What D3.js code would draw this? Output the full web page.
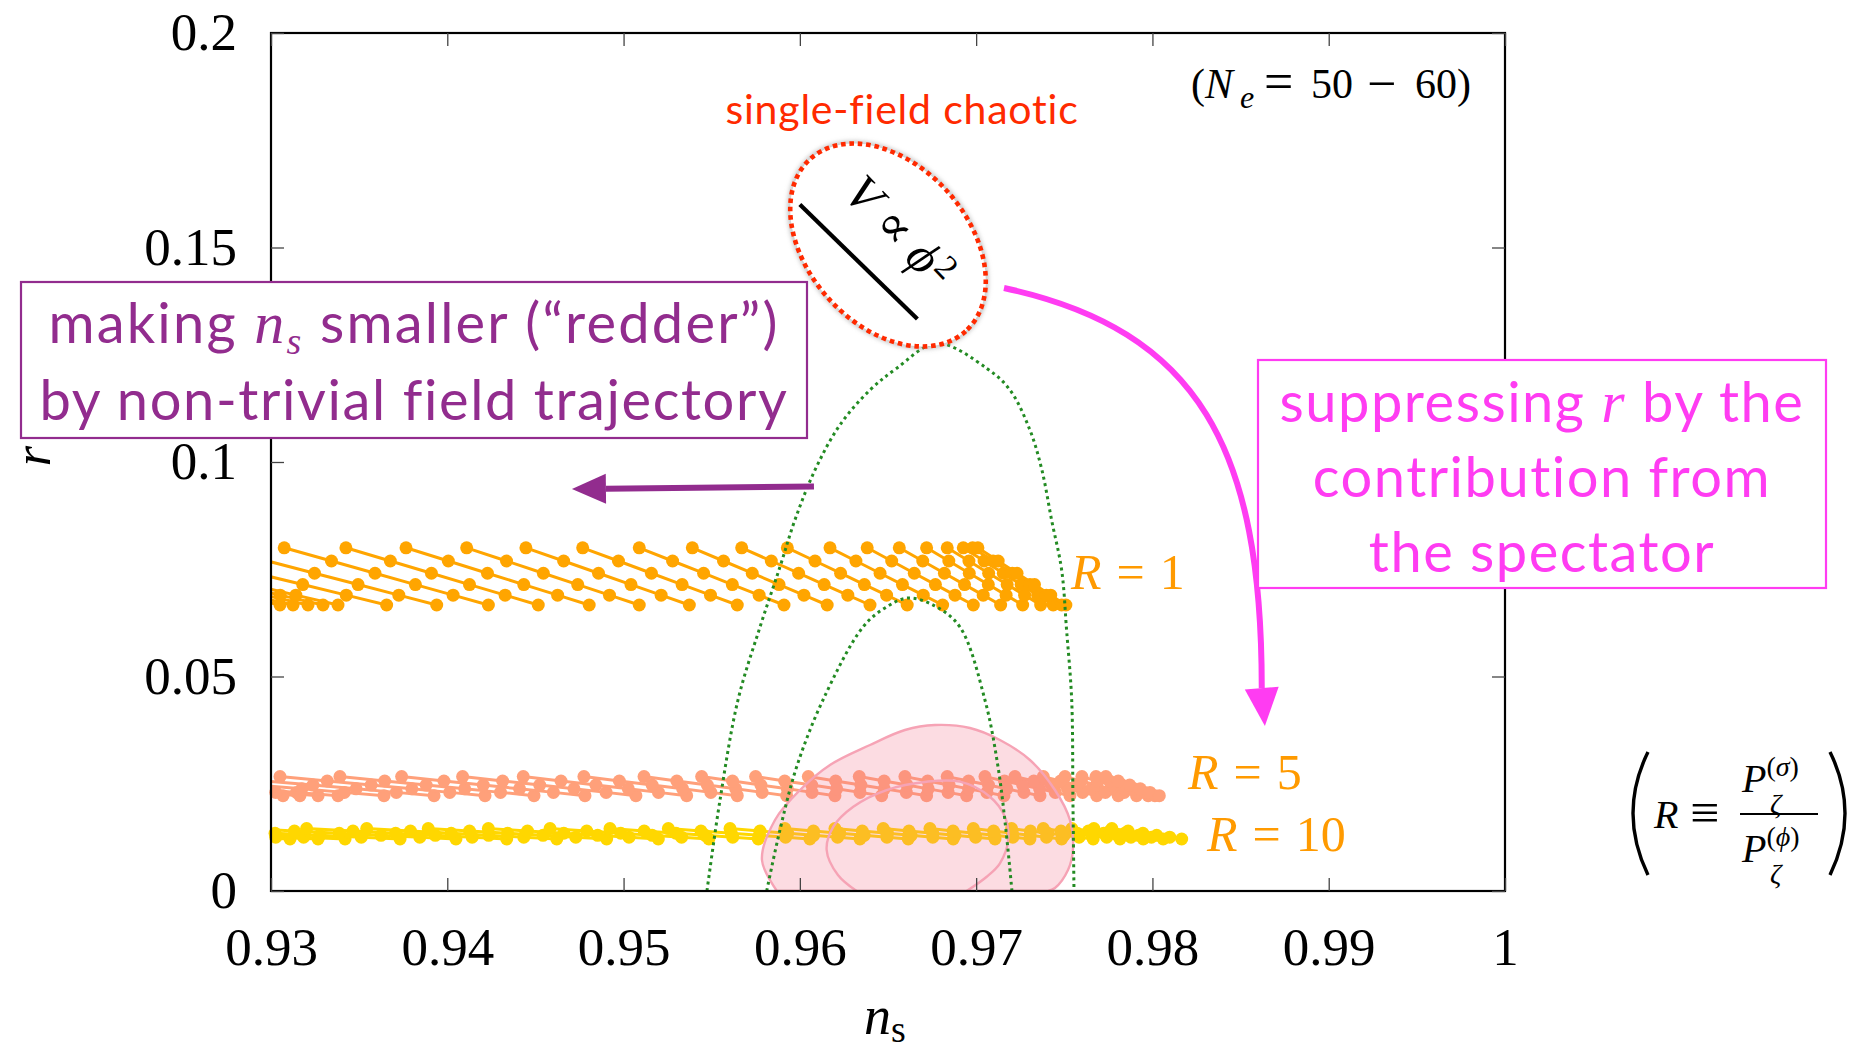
<!DOCTYPE html>
<html>
<head>
<meta charset="utf-8">
<script src="https://cdn.jsdelivr.net/npm/d3@7"></script>
<style>
  html, body { margin: 0; padding: 0; background: #ffffff; }
  svg { display: block; }
</style>
</head>
<body>
<svg id="chart" width="1856" height="1056"></svg>
<script>
// ---------------------------------------------------------------
// Data
// ---------------------------------------------------------------
// each trajectory is sampled at N_e = 50, 52, 54, 56, 58, 60
const efolds = [50, 52, 54, 56, 58, 60];

// tensor-to-scalar ratio r at those N_e for each spectator ratio R
const rR1  = [0.080000, 0.076923, 0.074074, 0.071429, 0.068966, 0.066667];
const rR5  = [0.026667, 0.025641, 0.024691, 0.023810, 0.022989, 0.022222];
const rR10 = [0.014545, 0.013986, 0.013468, 0.012987, 0.012539, 0.012121];

// spectral index n_s along each trajectory (one row per trajectory)
const nsR1 = [
  [0.91622, 0.91952, 0.92257, 0.92541, 0.92805, 0.93051],
  [0.91695, 0.92026, 0.92331, 0.92614, 0.92879, 0.93125],
  [0.91792, 0.92119, 0.92422, 0.92703, 0.92965, 0.93210],
  [0.91888, 0.92213, 0.92513, 0.92792, 0.93052, 0.93295],
  [0.91990, 0.92311, 0.92608, 0.92884, 0.93141, 0.93380],
  [0.92323, 0.92631, 0.92915, 0.93180, 0.93427, 0.93656],
  [0.92692, 0.92980, 0.93247, 0.93494, 0.93725, 0.93940],
  [0.93075, 0.93343, 0.93590, 0.93819, 0.94033, 0.94233],
  [0.93425, 0.93677, 0.93910, 0.94126, 0.94328, 0.94516],
  [0.93766, 0.94006, 0.94228, 0.94434, 0.94626, 0.94805],
  [0.94110, 0.94336, 0.94545, 0.94740, 0.94920, 0.95089],
  [0.94446, 0.94660, 0.94858, 0.95042, 0.95213, 0.95373],
  [0.94768, 0.94971, 0.95158, 0.95332, 0.95493, 0.95645],
  [0.95089, 0.95278, 0.95454, 0.95617, 0.95769, 0.95910],
  [0.95390, 0.95567, 0.95730, 0.95882, 0.96023, 0.96155],
  [0.95670, 0.95838, 0.95993, 0.96138, 0.96272, 0.96398],
  [0.95929, 0.96086, 0.96231, 0.96366, 0.96492, 0.96609],
  [0.96171, 0.96318, 0.96455, 0.96582, 0.96700, 0.96810],
  [0.96382, 0.96521, 0.96649, 0.96769, 0.96880, 0.96984],
  [0.96564, 0.96697, 0.96820, 0.96934, 0.97040, 0.97139],
  [0.96719, 0.96845, 0.96961, 0.97069, 0.97170, 0.97264],
  [0.96836, 0.96959, 0.97071, 0.97176, 0.97275, 0.97366],
  [0.96927, 0.97045, 0.97154, 0.97255, 0.97349, 0.97437],
  [0.96980, 0.97096, 0.97205, 0.97305, 0.97398, 0.97485],
  [0.97010, 0.97125, 0.97232, 0.97331, 0.97423, 0.97509]
];

const nsR5 = [
  [0.91650, 0.91977, 0.92280, 0.92562, 0.92824, 0.93068],
  [0.91758, 0.92082, 0.92383, 0.92662, 0.92922, 0.93164],
  [0.91877, 0.92197, 0.92495, 0.92770, 0.93027, 0.93267],
  [0.92019, 0.92333, 0.92624, 0.92894, 0.93145, 0.93380],
  [0.92336, 0.92638, 0.92916, 0.93175, 0.93416, 0.93641],
  [0.92688, 0.92973, 0.93238, 0.93483, 0.93711, 0.93925],
  [0.93051, 0.93319, 0.93568, 0.93799, 0.94014, 0.94214],
  [0.93391, 0.93645, 0.93880, 0.94099, 0.94302, 0.94492],
  [0.93741, 0.93981, 0.94204, 0.94410, 0.94602, 0.94781],
  [0.94087, 0.94314, 0.94524, 0.94719, 0.94901, 0.95070],
  [0.94431, 0.94645, 0.94843, 0.95027, 0.95198, 0.95358],
  [0.94775, 0.94976, 0.95162, 0.95335, 0.95495, 0.95645],
  [0.95116, 0.95302, 0.95475, 0.95636, 0.95786, 0.95925],
  [0.95443, 0.95618, 0.95779, 0.95929, 0.96069, 0.96199],
  [0.95749, 0.95914, 0.96067, 0.96209, 0.96341, 0.96464],
  [0.96048, 0.96203, 0.96346, 0.96479, 0.96604, 0.96719],
  [0.96337, 0.96478, 0.96608, 0.96728, 0.96841, 0.96946],
  [0.96596, 0.96725, 0.96846, 0.96957, 0.97061, 0.97158],
  [0.96836, 0.96957, 0.97070, 0.97174, 0.97271, 0.97362],
  [0.97050, 0.97161, 0.97264, 0.97360, 0.97449, 0.97532],
  [0.97220, 0.97327, 0.97426, 0.97518, 0.97604, 0.97684],
  [0.97381, 0.97479, 0.97570, 0.97654, 0.97733, 0.97806],
  [0.97504, 0.97597, 0.97685, 0.97765, 0.97840, 0.97910],
  [0.97600, 0.97687, 0.97767, 0.97842, 0.97912, 0.97976],
  [0.97680, 0.97757, 0.97828, 0.97895, 0.97956, 0.98014],
  [0.97736, 0.97806, 0.97871, 0.97931, 0.97986, 0.98039]
];

const nsR10 = [
  [0.91690, 0.92017, 0.92320, 0.92601, 0.92863, 0.93108],
  [0.91877, 0.92197, 0.92495, 0.92770, 0.93027, 0.93267],
  [0.92058, 0.92373, 0.92664, 0.92934, 0.93185, 0.93420],
  [0.92455, 0.92750, 0.93023, 0.93276, 0.93512, 0.93732],
  [0.92858, 0.93133, 0.93387, 0.93624, 0.93844, 0.94049],
  [0.93202, 0.93465, 0.93707, 0.93932, 0.94141, 0.94337],
  [0.93543, 0.93791, 0.94022, 0.94235, 0.94434, 0.94621],
  [0.93892, 0.94126, 0.94342, 0.94543, 0.94729, 0.94904],
  [0.94233, 0.94455, 0.94661, 0.94853, 0.95031, 0.95197],
  [0.94583, 0.94791, 0.94984, 0.95162, 0.95329, 0.95484],
  [0.94923, 0.95117, 0.95297, 0.95463, 0.95619, 0.95764],
  [0.95254, 0.95439, 0.95611, 0.95770, 0.95919, 0.96057],
  [0.95604, 0.95774, 0.95931, 0.96078, 0.96214, 0.96341],
  [0.95915, 0.96077, 0.96226, 0.96365, 0.96494, 0.96615],
  [0.96199, 0.96354, 0.96497, 0.96631, 0.96754, 0.96870],
  [0.96473, 0.96619, 0.96754, 0.96880, 0.96997, 0.97107],
  [0.96738, 0.96869, 0.96990, 0.97103, 0.97208, 0.97305],
  [0.96984, 0.97099, 0.97206, 0.97306, 0.97399, 0.97485],
  [0.97201, 0.97308, 0.97407, 0.97499, 0.97584, 0.97664],
  [0.97381, 0.97481, 0.97574, 0.97660, 0.97741, 0.97816],
  [0.97543, 0.97637, 0.97723, 0.97803, 0.97878, 0.97948],
  [0.97668, 0.97759, 0.97843, 0.97921, 0.97994, 0.98061],
  [0.97770, 0.97862, 0.97946, 0.98024, 0.98098, 0.98166]
];

const seriesNames  = ["R = 1", "R = 5", "R = 10"];
const seriesValues = ["1", "5", "10"];
const seriesColors = ["#ffa500", "#ffa07a", "#ffd700"];

// observational contours (n_s, r): outer and inner
const contourOuterNs = [0.95870, 0.95785, 0.95859, 0.96001, 0.96171, 0.96398, 0.96596, 0.96766, 0.96965,
                        0.97135, 0.97305, 0.97447, 0.97532, 0.97549, 0.97521, 0.97447, 0.97407];
const contourOuterR  = [0.00000, 0.00723, 0.01655, 0.02354, 0.02937, 0.03403, 0.03753, 0.03869, 0.03800,
                        0.03520, 0.03054, 0.02354, 0.01655, 0.00956, 0.00490, 0.00070, 0.00000];
const contourInnerNs = [0.96322, 0.96216, 0.96152, 0.96190, 0.96303, 0.96492, 0.96719, 0.96908, 0.97078,
                        0.97163, 0.97182, 0.97135, 0.97060, 0.96946];
const contourInnerR  = [0.00000, 0.00373, 0.00956, 0.01499, 0.01965, 0.02354, 0.02548, 0.02548, 0.02198,
                        0.01732, 0.01189, 0.00646, 0.00333, 0.00000];

// dotted green prediction arcs
const arcOuterNs = [0.95473, 0.95547, 0.95649, 0.95774, 0.95887, 0.95972, 0.96086, 0.96227, 0.96398, 0.96549,
                    0.96776, 0.97060, 0.97192, 0.97305, 0.97373, 0.97428, 0.97485, 0.97513, 0.97542, 0.97549, 0.97555];
const arcOuterR  = [0.00000, 0.02121, 0.04452, 0.06154, 0.07552, 0.08648, 0.09814, 0.10862, 0.11678, 0.12184,
                    0.12767, 0.12184, 0.11678, 0.10746, 0.09814, 0.08648, 0.07483, 0.06084, 0.04452, 0.02121, 0.00000];
const arcInnerNs = [0.95812, 0.95887, 0.95982, 0.96131, 0.96358, 0.96483, 0.96613, 0.96766, 0.96908, 0.97050,
                    0.97124, 0.97169, 0.97203];
const arcInnerR  = [0.00000, 0.01422, 0.02897, 0.04452, 0.06154, 0.06597, 0.06830, 0.06643, 0.06154, 0.04452,
                    0.02897, 0.01422, 0.00000];

// single-field V ∝ φ² prediction for N_e = 50 and 60
const chaoticNs = [0.96000, 0.966667];
const chaoticR  = [0.16000, 0.133333];

// axis ticks
const xTickValues = [0.93, 0.94, 0.95, 0.96, 0.97, 0.98, 0.99, 1.0];
const xTickLabels = ["0.93", "0.94", "0.95", "0.96", "0.97", "0.98", "0.99", "1"];
const yTickValues = [0, 0.05, 0.1, 0.15, 0.2];
const yTickLabels = ["0", "0.05", "0.1", "0.15", "0.2"];

// ---------------------------------------------------------------
// Layout and scales
// ---------------------------------------------------------------
const svg = d3.select("#chart");
const plot = { left: 271, right: 1505, top: 33, bottom: 891 };
const x = d3.scaleLinear().domain([0.93, 1.0]).range([plot.left, plot.right]);
const y = d3.scaleLinear().domain([0, 0.2]).range([plot.bottom, plot.top]);

const SERIF = "'Liberation Serif', 'DejaVu Serif', serif";
const SANS  = "Lato, 'Open Sans', 'DejaVu Sans', sans-serif";

const defs = svg.append("defs");
defs.append("clipPath").attr("id", "plotClip")
  .append("rect")
  .attr("x", plot.left).attr("y", plot.top)
  .attr("width", plot.right - plot.left).attr("height", plot.bottom - plot.top);
defs.append("filter").attr("id", "soft").attr("x", "-20%").attr("y", "-20%").attr("width", "140%").attr("height", "140%")
  .append("feGaussianBlur").attr("stdDeviation", 2.2);

svg.append("rect").attr("width", 1856).attr("height", 1056).attr("fill", "#ffffff");

// ---------------------------------------------------------------
// Trajectories
// ---------------------------------------------------------------
const seriesData = [
  { name: seriesNames[0], color: seriesColors[0], r: rR1,  ns: nsR1 },
  { name: seriesNames[1], color: seriesColors[1], r: rR5,  ns: nsR5 },
  { name: seriesNames[2], color: seriesColors[2], r: rR10, ns: nsR10 }
];

const line = d3.line().x(d => x(d[0])).y(d => y(d[1]));
const dataLayer = svg.append("g");

seriesData.forEach(s => {
  const g = dataLayer.append("g");
  s.ns.forEach(traj => {
    const pts = traj.map((v, i) => [v, s.r[i]]);
    g.append("path")
      .attr("d", line(pts))
      .attr("clip-path", "url(#plotClip)")
      .attr("fill", "none")
      .attr("stroke", s.color)
      .attr("stroke-width", 3);
    g.selectAll(null)
      .data(pts.filter(p => p[0] >= 0.93 && p[0] <= 1.0))
      .join("circle")
      .attr("cx", d => x(d[0]))
      .attr("cy", d => y(d[1]))
      .attr("r", 6.5)
      .attr("fill", s.color);
  });
});

// ---------------------------------------------------------------
// Observational contours
// ---------------------------------------------------------------
const smooth = d3.line().x(d => x(d[0])).y(d => y(d[1])).curve(d3.curveCatmullRom.alpha(0.5));
const outerPts = contourOuterNs.map((v, i) => [v, contourOuterR[i]]);
const innerPts = contourInnerNs.map((v, i) => [v, contourInnerR[i]]);
const contours = svg.append("g").attr("clip-path", "url(#plotClip)");
contours.append("path")
  .attr("d", smooth(outerPts) + "Z")
  .attr("fill", "rgb(243,115,139)").attr("fill-opacity", 0.25)
  .attr("stroke", "#f6a3b5").attr("stroke-width", 2.4);
contours.append("path")
  .attr("d", smooth(innerPts))
  .attr("fill", "none")
  .attr("stroke", "#f6a3b5").attr("stroke-width", 2.4);

// ---------------------------------------------------------------
// Dotted prediction arcs
// ---------------------------------------------------------------
const arcs = svg.append("g").attr("clip-path", "url(#plotClip)");
[[arcOuterNs, arcOuterR], [arcInnerNs, arcInnerR]].forEach(([ns, r]) => {
  arcs.append("path")
    .attr("d", smooth(ns.map((v, i) => [v, r[i]])))
    .attr("fill", "none")
    .attr("stroke", "#238b23")
    .attr("stroke-width", 3)
    .attr("stroke-dasharray", "3 3.6");
});

// ---------------------------------------------------------------
// Frame and ticks
// ---------------------------------------------------------------
svg.append("rect")
  .attr("x", plot.left).attr("y", plot.top)
  .attr("width", plot.right - plot.left).attr("height", plot.bottom - plot.top)
  .attr("fill", "none").attr("stroke", "#000").attr("stroke-width", 2.2);

function styleAxis(g) {
  g.select(".domain").remove();
  g.selectAll(".tick line").attr("stroke", "#444").attr("stroke-width", 1.3);
  g.attr("font-family", SERIF).attr("font-size", 53);
  g.selectAll(".tick text").attr("fill", "#000");
}

svg.append("g")
  .attr("transform", `translate(0,${plot.bottom})`)
  .call(d3.axisBottom(x).tickValues(xTickValues).tickFormat((d, i) => xTickLabels[i])
        .tickSizeInner(-13).tickSizeOuter(0).tickPadding(36))
  .call(styleAxis);
svg.append("g")
  .attr("transform", `translate(0,${plot.top})`)
  .call(d3.axisTop(x).tickValues(xTickValues).tickFormat("").tickSizeInner(-13).tickSizeOuter(0))
  .call(styleAxis);
svg.append("g")
  .attr("transform", `translate(${plot.left},0)`)
  .call(d3.axisLeft(y).tickValues(yTickValues).tickFormat((d, i) => yTickLabels[i])
        .tickSizeInner(-13).tickSizeOuter(0).tickPadding(34))
  .call(styleAxis);
svg.append("g")
  .attr("transform", `translate(${plot.right},0)`)
  .call(d3.axisRight(y).tickValues(yTickValues).tickFormat("").tickSizeInner(-13).tickSizeOuter(0))
  .call(styleAxis);

// axis titles
const xTitle = svg.append("text")
  .attr("x", 864).attr("y", 1034)
  .attr("font-family", SERIF).attr("font-size", 54);
xTitle.append("tspan").attr("font-style", "italic").text("n");
xTitle.append("tspan").attr("font-size", 38).attr("dy", 8).text("s");

svg.append("text")
  .attr("transform", "translate(50,456) rotate(-90)")
  .attr("text-anchor", "middle")
  .attr("font-family", SERIF).attr("font-size", 52).attr("font-style", "italic")
  .text("r");

// ---------------------------------------------------------------
// Series labels
// ---------------------------------------------------------------
const labelColor = "#ff9a00";
function rLabel(px, py, value) {
  const t = svg.append("text").attr("x", px).attr("y", py)
    .attr("font-family", SERIF).attr("font-size", 50).attr("fill", labelColor);
  t.append("tspan").attr("font-style", "italic").text("R");
  t.append("tspan").attr("dx", 15).text("=");
  t.append("tspan").attr("dx", 15).text(value);
}
rLabel(1071, 589, seriesValues[0]);
rLabel(1188, 789, seriesValues[1]);
rLabel(1207, 851, seriesValues[2]);

// ---------------------------------------------------------------
// Single-field chaotic annotation
// ---------------------------------------------------------------
const ellipseCenter = [0.96500, 0.15058];
const ecx = x(ellipseCenter[0]), ecy = y(ellipseCenter[1]);
svg.append("ellipse")
  .attr("transform", `translate(${ecx},${ecy}) rotate(48)`)
  .attr("rx", 116).attr("ry", 80)
  .attr("fill", "none").attr("stroke", "#999").attr("stroke-opacity", 0.55)
  .attr("stroke-width", 6).attr("filter", "url(#soft)");
svg.append("ellipse")
  .attr("transform", `translate(${ecx},${ecy}) rotate(48)`)
  .attr("rx", 116).attr("ry", 80)
  .attr("fill", "#ffffff")
  .attr("stroke", "#ff2a00").attr("stroke-width", 4.6)
  .attr("stroke-dasharray", "4.6 3.8");

svg.append("path")
  .attr("d", line(chaoticNs.map((v, i) => [v, chaoticR[i]])))
  .attr("stroke", "#000").attr("stroke-width", 4.2).attr("fill", "none");

const vText = svg.append("text")
  .attr("transform", `translate(${x(0.96500)},${y(0.15105)}) rotate(46)`)
  .attr("text-anchor", "middle")
  .attr("font-family", SERIF).attr("font-size", 50);
vText.append("tspan").attr("font-style", "italic").text("V");
vText.append("tspan").attr("dx", 12).text("\u221D");
vText.append("tspan").attr("dx", 12).attr("font-style", "italic").text("\u03D5");
vText.append("tspan").attr("font-size", 34).attr("dx", 2).attr("dy", -14).text("2");

svg.append("text")
  .attr("x", 902).attr("y", 124)
  .attr("text-anchor", "middle")
  .attr("font-family", SANS).attr("font-size", 41)
  .attr("letter-spacing", 0.8)
  .attr("fill", "#ff2a00")
  .text("single-field chaotic");

// N_e range
const neText = svg.append("text")
  .attr("y", 98)
  .attr("font-family", SERIF).attr("font-size", 42);
neText.append("tspan").attr("x", 1191).text("(");
neText.append("tspan").attr("x", 1205).attr("font-style", "italic").text("N");
neText.append("tspan").attr("x", 1240).attr("dy", 10).attr("font-style", "italic").attr("font-size", 32).text("e");
neText.append("tspan").attr("x", 1264).attr("dy", -9).attr("font-size", 52).text("=");
neText.append("tspan").attr("x", 1311).attr("dy", -1).text("50");
neText.append("tspan").attr("x", 1367).attr("dy", 3).attr("font-size", 52).text("\u2212");
neText.append("tspan").attr("x", 1415).attr("dy", -3).text("60)");

// ---------------------------------------------------------------
// Arrows
// ---------------------------------------------------------------
function arrowHead(tip, from, color, headLen, headW) {
  const dx = tip[0] - from[0], dy = tip[1] - from[1];
  const L = Math.hypot(dx, dy), ux = dx / L, uy = dy / L;
  const base = [tip[0] - ux * headLen, tip[1] - uy * headLen];
  const px = -uy, py = ux;
  svg.append("path")
    .attr("d", `M${tip[0]},${tip[1]} L${base[0] + px * headW / 2},${base[1] + py * headW / 2} ` +
               `L${base[0] - px * headW / 2},${base[1] - py * headW / 2} Z`)
    .attr("fill", color);
  return base;
}

const purple = "#922c8e";
const magenta = "#ff3cf2";

// toward smaller n_s
const redderNs = [0.96080, 0.94707];
const redderR  = [0.09430, 0.09370];
{
  const p0 = [x(redderNs[0]), y(redderR[0])], tip = [x(redderNs[1]), y(redderR[1])];
  const base = arrowHead(tip, p0, purple, 34, 30);
  svg.append("path").attr("d", `M${p0[0]},${p0[1]} L${base[0]},${base[1]}`)
    .attr("stroke", purple).attr("stroke-width", 6).attr("fill", "none");
}

// suppression of r by the spectator: cubic Bezier (start, control, control, end) then tip
const suppressNs = [0.97158, 0.98269, 0.98621, 0.98621, 0.98638];
const suppressR  = [0.14056, 0.13077, 0.10280, 0.04685, 0.03846];
{
  const P = suppressNs.map((v, i) => [x(v), y(suppressR[i])]);
  const base = arrowHead(P[4], P[3], magenta, 38, 34);
  svg.append("path")
    .attr("d", `M${P[0][0]},${P[0][1]} C${P[1][0]},${P[1][1]} ${P[2][0]},${P[2][1]} ${base[0]},${base[1]}`)
    .attr("stroke", magenta).attr("stroke-width", 6).attr("fill", "none");
}

// ---------------------------------------------------------------
// Text boxes
// ---------------------------------------------------------------
svg.append("rect").attr("x", 21).attr("y", 282).attr("width", 786).attr("height", 156)
  .attr("fill", "#fff").attr("stroke", purple).attr("stroke-width", 2.2);
const p1 = svg.append("text").attr("x", 414).attr("y", 343).attr("text-anchor", "middle")
  .attr("font-family", SANS).attr("font-size", 56).attr("letter-spacing", 2.2).attr("fill", purple);
p1.append("tspan").text("making ");
p1.append("tspan").attr("font-family", SERIF).attr("font-style", "italic").attr("font-size", 60).text("n");
p1.append("tspan").attr("font-family", SERIF).attr("font-style", "italic").attr("font-size", 38).attr("dy", 11).text("s");
p1.append("tspan").attr("dy", -11).text(" smaller (\u201Credder\u201D)");
svg.append("text").attr("x", 414).attr("y", 420).attr("text-anchor", "middle")
  .attr("font-family", SANS).attr("font-size", 56).attr("letter-spacing", 1.6).attr("fill", purple)
  .text("by non-trivial field trajectory");

svg.append("rect").attr("x", 1258).attr("y", 360).attr("width", 568).attr("height", 228)
  .attr("fill", "#fff").attr("stroke", magenta).attr("stroke-width", 2.2);
const m1 = svg.append("text").attr("x", 1542).attr("y", 422).attr("text-anchor", "middle")
  .attr("font-family", SANS).attr("font-size", 56).attr("letter-spacing", 1.5).attr("fill", magenta);
m1.append("tspan").text("suppressing ");
m1.append("tspan").attr("font-family", SERIF).attr("font-style", "italic").attr("font-size", 60).text("r");
m1.append("tspan").text(" by the");
svg.append("text").attr("x", 1542).attr("y", 497).attr("text-anchor", "middle")
  .attr("font-family", SANS).attr("font-size", 56).attr("letter-spacing", 1.5).attr("fill", magenta)
  .text("contribution from");
svg.append("text").attr("x", 1542).attr("y", 572).attr("text-anchor", "middle")
  .attr("font-family", SANS).attr("font-size", 56).attr("letter-spacing", 1.5).attr("fill", magenta)
  .text("the spectator");

// ---------------------------------------------------------------
// Definition of R
// ---------------------------------------------------------------
const def = svg.append("g").attr("font-family", SERIF).attr("fill", "#000");
def.append("path").attr("d", "M1648,752 Q1618,813 1648,875")
  .attr("fill", "none").attr("stroke", "#000").attr("stroke-width", 3.4);
def.append("path").attr("d", "M1830,752 Q1860,813 1830,875")
  .attr("fill", "none").attr("stroke", "#000").attr("stroke-width", 3.4);
def.append("text").attr("x", 1654).attr("y", 828).attr("font-size", 40).attr("font-style", "italic").text("R");
def.append("text").attr("x", 1690).attr("y", 830).attr("font-size", 52).text("\u2261");
def.append("line").attr("x1", 1740).attr("x2", 1818).attr("y1", 814).attr("y2", 814)
  .attr("stroke", "#000").attr("stroke-width", 1.8);
function powerSpec(yBase, field) {
  const t = def.append("text").attr("x", 1742).attr("y", yBase).attr("font-size", 40);
  t.append("tspan").attr("font-style", "italic").text("P");
  t.append("tspan").attr("font-size", 28).attr("dy", -16).text("(");
  t.append("tspan").attr("font-size", 28).attr("font-style", "italic").text(field);
  t.append("tspan").attr("font-size", 28).text(")");
  def.append("text").attr("x", 1770).attr("y", yBase + 21).attr("font-size", 28)
    .attr("font-style", "italic").text("\u03B6");
}
powerSpec(792, "\u03C3");
powerSpec(862, "\u03D5");
</script>
</body>
</html>
